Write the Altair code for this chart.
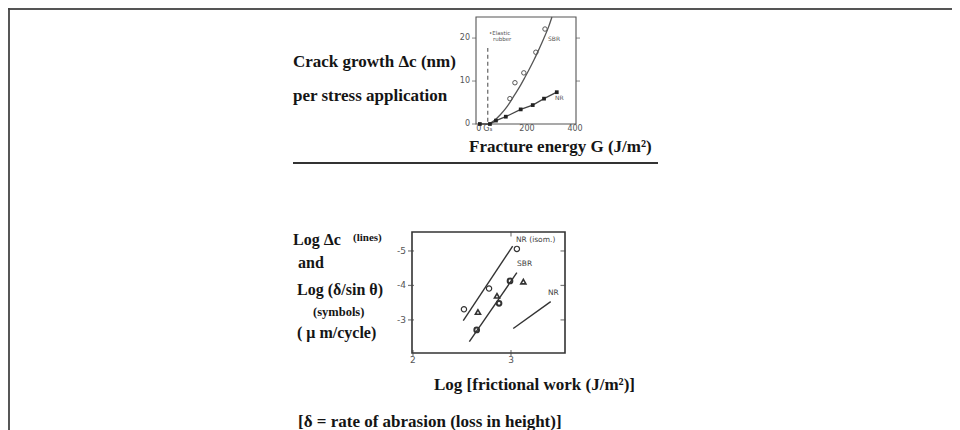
import altair as alt
import pandas as pd

# ---------------- upper panel: crack growth vs fracture energy ----------------
nr_G = [4, 46, 71, 112, 174, 224, 271, 324]
nr_dc = [0.0, 0.0, 0.8, 1.7, 3.4, 4.4, 5.9, 7.4]
sbr_G = [129, 150, 187, 237, 275]
sbr_dc = [5.9, 9.6, 11.9, 16.7, 22.1]
sbr_curve_G = [37, 50, 70, 90, 110, 130, 150, 170, 190, 210, 230, 250, 270, 290, 304]
sbr_curve_dc = [0.0, 0.3, 1.1, 2.2, 3.5, 5.1, 6.9, 8.7, 10.7, 12.8, 15.0, 17.4, 19.9, 22.6, 24.9]
gs_G = [37, 37]
gs_dc = [0.5, 17.7]
top_x_ticks = [0, 37, 200, 400]
top_x_labels = ["0", "G\u209b", "200", "400"]
top_y_ticks = [0, 10, 20]
top_y_labels = ["0", "10", "20"]
top_right_ticks = [10, 20]
top_x_domain = [-12, 404]
top_y_domain = [0, 24.9]

# ---------------- lower panel: abrasion vs frictional work ----------------
line_names = ["NR (isom.)", "SBR", "NR"]
line_x = [[2.513, 3.017], [2.575, 3.06], [3.023, 3.405]]
line_y = [[-2.98, -5.14], [-2.37, -4.37], [-2.75, -3.53]]
circ_x = [2.52, 2.776, 3.06]
circ_y = [-3.31, -3.91, -5.06]
tri_x = [2.663, 2.857, 3.126]
tri_y = [-3.23, -3.70, -4.11]
dot_x = [2.65, 2.878, 2.99]
dot_y = [-2.71, -3.48, -4.13]
low_x_ticks = [2, 3]
low_x_labels = ["2", "3"]
low_y_ticks = [-5, -4, -3]
low_y_labels = ["-5", "-4", "-3"]
low_top_ticks = [3]
low_x_domain = [1.99, 3.551]
low_y_domain = [-5.55, -2.04]

# ---------------- texts ----------------
txt_top_left = ["Crack growth \u0394c (nm)", "per stress application"]
txt_top_x = "Fracture energy G (J/m\u00b2)"
txt_elastic = ["\u2022Elastic", "rubber"]
txt_low_left = ["Log \u0394c", "(lines)", "and", "Log (\u03b4/sin \u03b8)", "(symbols)", "( \u03bc m/cycle)"]
txt_low_x = "Log [frictional work (J/m\u00b2)]"
txt_note = "[\u03b4 = rate of abrasion (loss in height)]"

W, H = 944, 422
one = pd.DataFrame({"k": [0]})
SERIF = "Liberation Serif"
SANS = "DejaVu Sans"


def text(s, x, y, size, bold=True, font=SERIF, color="#151515"):
    return alt.Chart(one).mark_text(
        align="left", baseline="middle", font=font, fontSize=size,
        fontWeight="bold" if bold else "normal", color=color
    ).encode(x=alt.value(x), y=alt.value(y), text=alt.value(s))


def rule(x, x2, y, y2, color="#444", width=1.5):
    enc = dict(x=alt.value(x), y=alt.value(y))
    if x2 is not None:
        enc["x2"] = alt.value(x2)
    if y2 is not None:
        enc["y2"] = alt.value(y2)
    return alt.Chart(one).mark_rule(color=color, strokeWidth=width).encode(**enc)


def enc(xs, ys, xf="x", yf="y"):
    return dict(x=alt.X(f"{xf}:Q", scale=xs, axis=None), y=alt.Y(f"{yf}:Q", scale=ys, axis=None))


# ---------------- upper chart ----------------
xs_t = alt.Scale(domain=top_x_domain, range=[468, 568], nice=False, zero=False)
ys_t = alt.Scale(domain=top_y_domain, range=[116, 9], nice=False, zero=False)

box_t = alt.Chart(pd.DataFrame({"x": [top_x_domain[0]], "x2": [top_x_domain[1]],
                                "y": [top_y_domain[0]], "y2": [top_y_domain[1]]})).mark_rect(
    fill="transparent", stroke="#555", strokeWidth=1.1
).encode(x2="x2", y2="y2", **enc(xs_t, ys_t))

yticks_t = pd.DataFrame({"x": [top_x_domain[0]] * 3, "y": top_y_ticks, "t": top_y_labels})
left_ticks_t = alt.Chart(yticks_t).mark_tick(
    orient="horizontal", size=4, thickness=1, color="#555", xOffset=-2
).encode(**enc(xs_t, ys_t))
left_labels_t = alt.Chart(yticks_t).mark_text(
    align="right", baseline="middle", dx=-6, font=SANS, fontSize=8, color="#555"
).encode(text="t:N", **enc(xs_t, ys_t))

xticks_t = pd.DataFrame({"x": top_x_ticks, "y": [top_y_domain[0]] * 4, "t": top_x_labels})
bottom_labels_t = alt.Chart(xticks_t).mark_text(
    align="center", baseline="top", dy=1, font=SANS, fontSize=8, color="#555"
).encode(text="t:N", **enc(xs_t, ys_t))

right_t = alt.Chart(pd.DataFrame({"x": [top_x_domain[1]] * len(top_right_ticks), "y": top_right_ticks})).mark_tick(
    orient="horizontal", size=4, thickness=1, color="#555", xOffset=2
).encode(**enc(xs_t, ys_t))

curve_t = alt.Chart(pd.DataFrame({"G": sbr_curve_G, "dc": sbr_curve_dc})).mark_line(
    color="#555", strokeWidth=1.3, interpolate="monotone"
).encode(**enc(xs_t, ys_t, "G", "dc"))

nrline_t = alt.Chart(pd.DataFrame({"G": nr_G, "dc": nr_dc})).mark_line(
    color="#444", strokeWidth=1.3
).encode(**enc(xs_t, ys_t, "G", "dc"))

nrpts_t = alt.Chart(pd.DataFrame({"G": nr_G, "dc": nr_dc})).mark_point(
    shape="square", filled=True, size=14, color="#222", opacity=1
).encode(**enc(xs_t, ys_t, "G", "dc"))

sbrpts_t = alt.Chart(pd.DataFrame({"G": sbr_G, "dc": sbr_dc})).mark_point(
    shape="circle", filled=False, size=20, color="#555", strokeWidth=1, opacity=1
).encode(**enc(xs_t, ys_t, "G", "dc"))

gs_t = alt.Chart(pd.DataFrame({"G": gs_G, "dc": gs_dc})).mark_line(
    color="#555", strokeWidth=1.1, strokeDash=[4, 3]
).encode(**enc(xs_t, ys_t, "G", "dc"))

upper = alt.layer(box_t, left_ticks_t, left_labels_t, bottom_labels_t, right_t, gs_t,
                  curve_t, nrline_t, sbrpts_t, nrpts_t)

# ---------------- lower chart ----------------
xs_l = alt.Scale(domain=low_x_domain, range=[404, 557], nice=False, zero=False)
ys_l = alt.Scale(domain=low_y_domain, range=[224, 345], nice=False, zero=False)

box_l = alt.Chart(pd.DataFrame({"x": [low_x_domain[0]], "x2": [low_x_domain[1]],
                                "y": [low_y_domain[0]], "y2": [low_y_domain[1]]})).mark_rect(
    fill="transparent", stroke="#333", strokeWidth=1.6
).encode(x2="x2", y2="y2", **enc(xs_l, ys_l))

yticks_l = pd.DataFrame({"x": [low_x_domain[0]] * 3, "y": low_y_ticks, "t": low_y_labels})
left_ticks_l = alt.Chart(yticks_l).mark_tick(
    orient="horizontal", size=6, thickness=1.2, color="#444", xOffset=-1
).encode(**enc(xs_l, ys_l))
left_labels_l = alt.Chart(yticks_l).mark_text(
    align="right", baseline="middle", dx=-6, font=SANS, fontSize=9, color="#555"
).encode(text="t:N", **enc(xs_l, ys_l))

xticks_l = pd.DataFrame({"x": low_x_ticks, "y": [low_y_domain[1]] * 2, "t": low_x_labels})
bottom_ticks_l = alt.Chart(xticks_l).mark_tick(
    orient="vertical", size=6, thickness=1.2, color="#444"
).encode(**enc(xs_l, ys_l))
bottom_labels_l = alt.Chart(xticks_l).mark_text(
    align="center", baseline="top", dy=3, font=SANS, fontSize=9, color="#555"
).encode(text="t:N", **enc(xs_l, ys_l))

right_l = alt.Chart(pd.DataFrame({"x": [low_x_domain[1]] * len(low_y_ticks), "y": low_y_ticks})).mark_tick(
    orient="horizontal", size=5, thickness=1.2, color="#444", xOffset=-2
).encode(**enc(xs_l, ys_l))

top_l = alt.Chart(pd.DataFrame({"x": low_top_ticks, "y": [low_y_domain[0]] * len(low_top_ticks)})).mark_tick(
    orient="vertical", size=5, thickness=1.2, color="#444", yOffset=2
).encode(**enc(xs_l, ys_l))

rows = []
for name, xs, ys in zip(line_names, line_x, line_y):
    for a, b in zip(xs, ys):
        rows.append({"series": name, "x": a, "y": b})
lines_l = alt.Chart(pd.DataFrame(rows)).mark_line(color="#333", strokeWidth=1.4).encode(
    detail="series:N", **enc(xs_l, ys_l))

circ_l = alt.Chart(pd.DataFrame({"x": circ_x, "y": circ_y})).mark_point(
    shape="circle", filled=False, size=28, color="#333", strokeWidth=1.2, opacity=1
).encode(**enc(xs_l, ys_l))

tri_l = alt.Chart(pd.DataFrame({"x": tri_x, "y": tri_y})).mark_point(
    shape="triangle-up", filled=False, size=26, color="#333", strokeWidth=1.6, opacity=1
).encode(**enc(xs_l, ys_l))

dot_l = alt.Chart(pd.DataFrame({"x": dot_x, "y": dot_y})).mark_point(
    shape="circle", filled=False, size=22, color="#333", strokeWidth=2, opacity=1
).encode(**enc(xs_l, ys_l))

lower = alt.layer(box_l, left_ticks_l, left_labels_l, bottom_ticks_l, bottom_labels_l, right_l, top_l,
                  lines_l, circ_l, tri_l, dot_l)

# ---------------- decorations and texts ----------------
deco = [
    rule(0, W, 1, None, color="#555", width=2),
    rule(1, None, 0, H, color="#444", width=1.8),
    rule(285, 650, 155, None, color="#333", width=2),
    text(txt_top_left[0], 285, 54, 17),
    text(txt_top_left[1], 285, 88, 17),
    text(txt_top_x, 461, 139, 17),
    text(txt_elastic[0], 481, 25, 5.5, bold=False, font=SANS, color="#555"),
    text(txt_elastic[1], 485, 31, 5.5, bold=False, font=SANS, color="#555"),
    text(line_names[1], 540, 31, 6, bold=False, font=SANS, color="#555"),
    text(line_names[2], 547, 90, 6, bold=False, font=SANS, color="#555"),
    text(line_names[0], 508, 232, 7.5, bold=False, font=SANS, color="#444"),
    text(line_names[1], 509, 256, 7.5, bold=False, font=SANS, color="#444"),
    text(line_names[2], 540, 285, 7.5, bold=False, font=SANS, color="#444"),
    text(txt_low_left[0], 285, 232, 16),
    text(txt_low_left[1], 345, 230, 11),
    text(txt_low_left[2], 290, 255, 16),
    text(txt_low_left[3], 289, 282, 16),
    text(txt_low_left[4], 305, 304, 12.5),
    text(txt_low_left[5], 289, 325, 16),
    text(txt_low_x, 426, 377, 17),
    text(txt_note, 290, 414, 17),
]

chart = alt.layer(*deco, upper, lower).resolve_scale(x="independent", y="independent").properties(
    width=W, height=H, padding=0, autosize=alt.AutoSizeParams(type="none")
).configure_view(strokeWidth=0)

chart.save("out.html", embed_options={"renderer": "svg", "actions": False})
